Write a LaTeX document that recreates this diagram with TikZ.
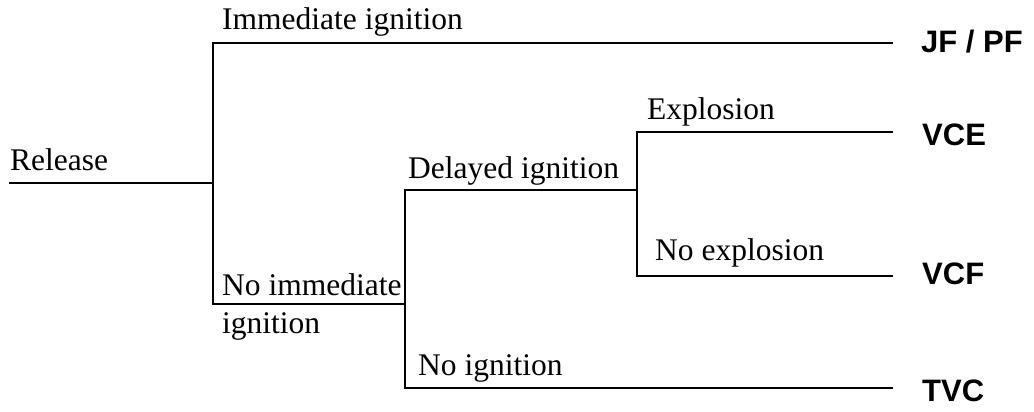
\documentclass[tikz,border=0pt]{standalone}
\usepackage{fontspec}
\setmainfont{Liberation Serif}
\newfontfamily\labsans{Liberation Sans}
\tikzset{
  branch/.style={line width=2.5pt, line cap=rect},
  lab/.style={inner sep=0pt, anchor=base west, font=\fontsize{31.5pt}{33pt}\selectfont},
  outcome/.style={inner sep=0pt, anchor=west, font=\labsans\bfseries\fontsize{31pt}{33pt}\selectfont}
}
\begin{document}
\begin{tikzpicture}[x=1pt,y=-1pt]
\useasboundingbox (0,0) rectangle (1034,412);
% junction coordinates
\coordinate (rs) at (10,183);
\coordinate (j1) at (213,183);
\coordinate (j1t) at (213,43);
\coordinate (j1b) at (213,304);
\coordinate (j2) at (405,304);
\coordinate (j2t) at (405,190);
\coordinate (j2b) at (405,388);
\coordinate (j3) at (637,190);
\coordinate (j3t) at (637,132);
\coordinate (j3b) at (637,276);
\coordinate (e1) at (892,43);
\coordinate (e2) at (892,132);
\coordinate (e3) at (892,276);
\coordinate (e4) at (892,388);
% outcomes
\node[outcome] (jf) at (921,42) {JF / PF};
\node[outcome] (vce) at (922,135) {VCE};
\node[outcome] (vcf) at (922,274) {VCF};
\node[outcome] (tvc) at (922,391) {TVC};
% branches
\draw[branch] (rs) -- (j1);
\draw[branch] (j1b) -- (j1t) -- (e1);
\draw[branch] (j1b) -- (j2);
\draw[branch] (j2b) -- (j2t) -- (j3);
\draw[branch] (j2b) -- (e4);
\draw[branch] (j3b) -- (j3t) -- (e2);
\draw[branch] (j3b) -- (e3);
% labels
\node[lab] (rel) at (10,170) {Release};
\node[lab] (imm) at (222,30) {Immediate ignition};
\node[lab] (noimm) at (222,295) {No immediate};
\node[lab] (noimm2) at (222,333) {ignition};
\node[lab] (del) at (408,178) {Delayed ignition};
\node[lab] (noig) at (418,375) {No ignition};
\node[lab] (exp) at (647,120) {Explosion};
\node[lab] (noexp) at (655,260) {No explosion};
\end{tikzpicture}
\end{document}
